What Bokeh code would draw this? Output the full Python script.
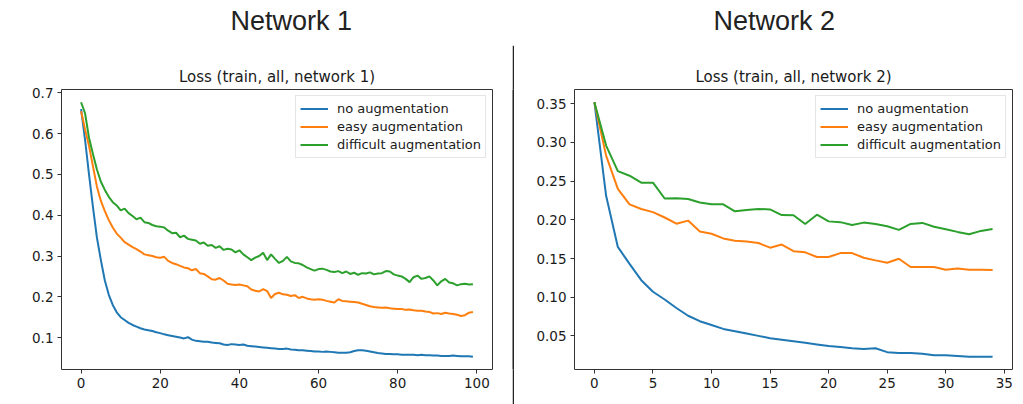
from bokeh.plotting import figure
from bokeh.models import Range1d, FixedTicker, Title, Legend, LegendItem
from bokeh.layouts import row, column
from bokeh.embed import file_html
from bokeh.resources import INLINE

# ---------------- data ----------------
series_names = ["no augmentation", "easy augmentation", "difficult augmentation"]
series_colors = ["#1f77b4", "#ff7f0e", "#2ca02c"]

net1_epochs = list(range(100))
net1_none = [
    0.660, 0.585, 0.500, 0.420, 0.345, 0.290, 0.240, 0.205, 0.180, 0.162,
    0.150, 0.143, 0.136, 0.131, 0.127, 0.123, 0.120, 0.118, 0.116, 0.113,
    0.111, 0.108, 0.106, 0.104, 0.102, 0.100, 0.098, 0.101, 0.095, 0.092,
    0.091, 0.090, 0.090, 0.088, 0.087, 0.086, 0.083, 0.082, 0.084, 0.083,
    0.082, 0.083, 0.080, 0.079, 0.078, 0.077, 0.076, 0.075, 0.074, 0.073,
    0.072, 0.072, 0.073, 0.071, 0.070, 0.069, 0.069, 0.068, 0.067, 0.066,
    0.066, 0.065, 0.066, 0.065, 0.064, 0.063, 0.063, 0.063, 0.064, 0.067,
    0.069, 0.069, 0.068, 0.066, 0.064, 0.062, 0.061, 0.060, 0.060, 0.059,
    0.059, 0.058, 0.058, 0.058, 0.058, 0.057, 0.058, 0.057, 0.057, 0.056,
    0.056, 0.055, 0.055, 0.055, 0.056, 0.055, 0.054, 0.054, 0.054, 0.053,
]
net1_easy = [
    0.655, 0.610, 0.570, 0.520, 0.470, 0.435, 0.410, 0.388, 0.370, 0.355,
    0.345, 0.334, 0.328, 0.322, 0.317, 0.311, 0.304, 0.302, 0.300, 0.297,
    0.296, 0.298, 0.288, 0.283, 0.280, 0.276, 0.272, 0.270, 0.265, 0.268,
    0.258, 0.256, 0.250, 0.243, 0.242, 0.246, 0.240, 0.232, 0.230, 0.229,
    0.230, 0.228, 0.226, 0.218, 0.215, 0.213, 0.219, 0.214, 0.197, 0.207,
    0.210, 0.206, 0.205, 0.202, 0.204, 0.197, 0.200, 0.196, 0.194, 0.193,
    0.194, 0.193, 0.190, 0.188, 0.186, 0.194, 0.190, 0.189, 0.188, 0.187,
    0.186, 0.183, 0.180, 0.177, 0.175, 0.174, 0.173, 0.174, 0.172, 0.171,
    0.170, 0.170, 0.168, 0.169, 0.167, 0.166, 0.166, 0.164, 0.163, 0.159,
    0.160, 0.158, 0.161, 0.159, 0.158, 0.156, 0.153, 0.155, 0.161, 0.163,
]
net1_difficult = [
    0.677, 0.650, 0.590, 0.550, 0.512, 0.482, 0.462, 0.445, 0.432, 0.424,
    0.412, 0.416, 0.405, 0.398, 0.390, 0.394, 0.383, 0.381, 0.376, 0.373,
    0.372, 0.370, 0.362, 0.356, 0.357, 0.346, 0.350, 0.342, 0.340, 0.338,
    0.330, 0.333, 0.325, 0.327, 0.320, 0.324, 0.315, 0.318, 0.316, 0.309,
    0.314, 0.304, 0.297, 0.290, 0.296, 0.300, 0.308, 0.290, 0.304, 0.293,
    0.283, 0.288, 0.298, 0.287, 0.283, 0.282, 0.278, 0.272, 0.268, 0.264,
    0.268, 0.269, 0.266, 0.262, 0.261, 0.263, 0.258, 0.262, 0.256, 0.259,
    0.254, 0.258, 0.257, 0.260, 0.255, 0.257, 0.258, 0.263, 0.262, 0.255,
    0.252, 0.250, 0.244, 0.236, 0.248, 0.252, 0.244, 0.246, 0.250, 0.240,
    0.228, 0.238, 0.244, 0.235, 0.233, 0.228, 0.231, 0.232, 0.230, 0.231,
]

net2_epochs = list(range(35))
net2_none = [
    0.352, 0.231, 0.165, 0.143, 0.122, 0.107, 0.097, 0.086, 0.076, 0.069,
    0.064, 0.059, 0.056, 0.053, 0.050, 0.047, 0.045, 0.043, 0.041, 0.039,
    0.037, 0.0355, 0.034, 0.033, 0.034, 0.029, 0.028, 0.028, 0.027, 0.025,
    0.025, 0.024, 0.023, 0.023, 0.023,
]
net2_easy = [
    0.352, 0.283, 0.240, 0.220, 0.214, 0.210, 0.203, 0.195, 0.199, 0.185,
    0.182, 0.176, 0.173, 0.172, 0.170, 0.164, 0.168, 0.1595, 0.158, 0.152,
    0.152, 0.157, 0.157, 0.151, 0.1476, 0.1446, 0.1497, 0.139, 0.139, 0.139,
    0.1356, 0.137, 0.1356, 0.1356, 0.135,
]
net2_difficult = [
    0.352, 0.296, 0.263, 0.257, 0.248, 0.248, 0.2276, 0.228, 0.227, 0.2225,
    0.220, 0.220, 0.211, 0.2126, 0.214, 0.2135, 0.2062, 0.206, 0.1947, 0.2066,
    0.198, 0.197, 0.1934, 0.1964, 0.1947, 0.1916, 0.187, 0.1947, 0.196, 0.191,
    0.1878, 0.1844, 0.1814, 0.1857, 0.1882,
]

net1_xticks = [0, 20, 40, 60, 80, 100]
net1_xlabels = ["0", "20", "40", "60", "80", "100"]
net1_yticks = [0.1, 0.2, 0.3, 0.4, 0.5, 0.6, 0.7]
net1_ylabels = ["0.1", "0.2", "0.3", "0.4", "0.5", "0.6", "0.7"]
net2_xticks = [0, 5, 10, 15, 20, 25, 30, 35]
net2_xlabels = ["0", "5", "10", "15", "20", "25", "30", "35"]
net2_yticks = [0.05, 0.10, 0.15, 0.20, 0.25, 0.30, 0.35]
net2_ylabels = ["0.05", "0.10", "0.15", "0.20", "0.25", "0.30", "0.35"]

panel_titles = ["Network 1", "Network 2"]
panel_subtitles = ["Loss (train, all, network 1)", "Loss (train, all, network 2)"]

MPL_FONT = "DejaVu Sans"
TEXT_COLOR = "#1a1a1a"

HEADER_H = 45
TOTAL_H = 404


def padded(lo, hi, frac=0.05):
    pad = (hi - lo) * frac
    return lo - pad, hi + pad


def make_header(text, width, offset):
    h = figure(width=width, height=HEADER_H, output_backend="svg", toolbar_location=None,
               x_axis_type=None, y_axis_type=None, min_border=0,
               outline_line_color=None, title_location=None)
    h.border_fill_color = "white"
    h.background_fill_color = "white"
    t = Title(text=text, align="left", offset=offset,
              text_font="Liberation Sans", text_font_size="27px",
              text_font_style="normal", text_color="#222222", standoff=7)
    h.add_layout(t, "above")
    return h


def make_panel(xs, ys_list, xticks, xlabels, yticks, ylabels, sub_title,
               width, mb_left, mb_right, mb_bottom):
    x0, x1 = padded(min(xs), max(xs))
    allv = [v for ys in ys_list for v in ys]
    y0, y1 = padded(min(allv), max(allv))
    p = figure(width=width, height=TOTAL_H - HEADER_H, output_backend="svg",
               toolbar_location=None,
               x_range=Range1d(x0, x1), y_range=Range1d(y0, y1), title_location=None,
               min_border_left=mb_left, min_border_right=mb_right,
               min_border_top=89 - HEADER_H, min_border_bottom=mb_bottom)
    p.background_fill_color = "white"
    p.border_fill_color = "white"
    p.outline_line_color = "#333333"
    p.outline_line_width = 1
    p.xgrid.visible = False
    p.ygrid.visible = False

    for ax, ticks, labels in ((p.xaxis[0], xticks, xlabels), (p.yaxis[0], yticks, ylabels)):
        ax.ticker = FixedTicker(ticks=ticks)
        ax.major_label_overrides = dict(zip(ticks, labels))
        ax.axis_line_color = None
        ax.major_tick_line_color = "#333333"
        ax.major_tick_out = 4
        ax.major_tick_in = 0
        ax.minor_tick_line_color = None
        ax.major_label_text_font = MPL_FONT
        ax.major_label_text_font_size = "13.5px"
        ax.major_label_text_color = TEXT_COLOR
        ax.major_label_standoff = 4

    items = []
    for ys, name, color in zip(ys_list, series_names, series_colors):
        r = p.line(xs, ys, line_color=color, line_width=2)
        items.append(LegendItem(label=name, renderers=[r]))

    legend = Legend(items=items, location="top_right")
    legend.label_text_font = MPL_FONT
    legend.label_text_font_size = "13px"
    legend.label_text_color = TEXT_COLOR
    legend.border_line_color = "#cccccc"
    legend.border_line_width = 1
    legend.background_fill_alpha = 0.85
    legend.margin = 6
    legend.padding = 4
    legend.spacing = 1
    legend.label_height = 17
    legend.glyph_height = 17
    legend.glyph_width = 28
    legend.label_standoff = 9
    p.add_layout(legend)

    sub = Title(text=sub_title, align="center", text_font=MPL_FONT,
                text_font_size="15px", text_font_style="normal",
                text_color=TEXT_COLOR, standoff=7)
    p.add_layout(sub, "above")
    return p


LEFT_W = 512
DIV_W = 2
RIGHT_W = 509

h1 = make_header(panel_titles[0], LEFT_W, 230)
h2 = make_header(panel_titles[1], DIV_W + RIGHT_W, 713 - LEFT_W)

p1 = make_panel(net1_epochs, [net1_none, net1_easy, net1_difficult],
                net1_xticks, net1_xlabels, net1_yticks, net1_ylabels,
                panel_subtitles[0],
                width=LEFT_W, mb_left=61, mb_right=20, mb_bottom=35)

p2 = make_panel(net2_epochs, [net2_none, net2_easy, net2_difficult],
                net2_xticks, net2_xlabels, net2_yticks, net2_ylabels,
                panel_subtitles[1],
                width=RIGHT_W, mb_left=60, mb_right=11, mb_bottom=34)

divider = figure(width=DIV_W, height=TOTAL_H - HEADER_H, output_backend="svg",
                 toolbar_location=None, x_axis_type=None, y_axis_type=None, min_border=0,
                 background_fill_color="#222222", border_fill_color="#222222",
                 outline_line_color=None)

layout = column(row(h1, h2, spacing=0), row(p1, divider, p2, spacing=0), spacing=0)

open("out.html", "w").write(file_html(layout, INLINE))
